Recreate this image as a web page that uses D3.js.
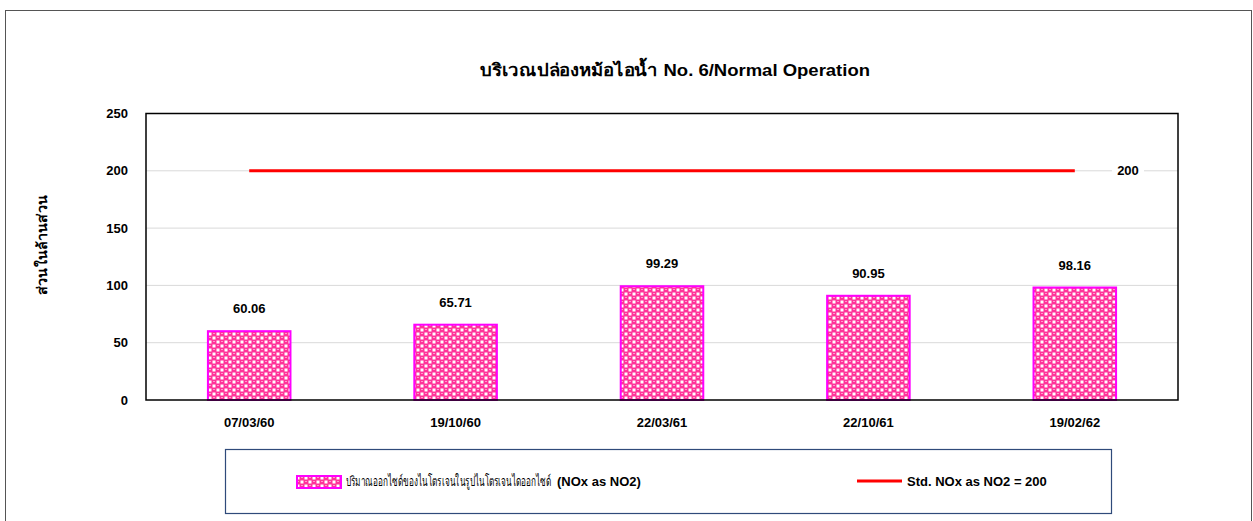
<!DOCTYPE html>
<html>
<head>
<meta charset="utf-8">
<script src="https://cdn.jsdelivr.net/npm/d3@7"></script>
<style>
  body { margin: 0; background: #fff; }
  text { font-family: Arial, "Liberation Sans", sans-serif; }
</style>
</head>
<body>
<script>
const dates = ['07/03/60', '19/10/60', '22/03/61', '22/10/61', '19/02/62'];
const noxValues = [60.06, 65.71, 99.29, 90.95, 98.16];
const stdValue = 200;
const yTicks = [0, 50, 100, 150, 200, 250];

const width = 1253;
const height = 521;
const plot = {left: 146, right: 1178, top: 113.5, bottom: 400};

const svg = d3.select('body').append('svg')
  .attr('width', width)
  .attr('height', height);

// bar fill pattern (pink balls on white)
const defs = svg.append('defs');
const pat = defs.append('pattern')
  .attr('id', 'dots')
  .attr('patternUnits', 'userSpaceOnUse')
  .attr('width', 8)
  .attr('height', 8);
pat.append('rect').attr('width', 8).attr('height', 8).attr('fill', '#ff3399');
pat.append('rect').attr('x', 4.5).attr('y', 0.5).attr('width', 3).attr('height', 3).attr('fill', '#fff');
pat.append('rect').attr('x', 0.5).attr('y', 4.5).attr('width', 3).attr('height', 3).attr('fill', '#fff');
pat.append('rect').attr('x', 1).attr('y', 1).attr('width', 2).attr('height', 0.8).attr('fill', '#ffb3d9');
pat.append('rect').attr('x', 5).attr('y', 5).attr('width', 2).attr('height', 0.8).attr('fill', '#ffb3d9');

// outer frame
svg.append('rect')
  .attr('x', 5.5).attr('y', 10.5)
  .attr('width', 1246).attr('height', 520)
  .attr('fill', 'none')
  .attr('stroke', '#555')
  .attr('stroke-width', 1);

const x = d3.scaleBand()
  .domain(dates)
  .range([plot.left, plot.right])
  .paddingInner(0.6)
  .paddingOuter(0.3);

const y = d3.scaleLinear()
  .domain([0, 250])
  .range([plot.bottom, plot.top]);

// gridlines
svg.append('g').selectAll('line')
  .data(yTicks.filter(d => d > 0 && d < 250))
  .enter()
  .append('line')
  .attr('x1', plot.left).attr('x2', plot.right)
  .attr('y1', d => y(d)).attr('y2', d => y(d))
  .attr('stroke', '#d9d9d9')
  .attr('stroke-width', 1);

// y axis labels
const yAxis = d3.axisLeft(y).tickValues(yTicks).tickSize(0).tickPadding(18);
svg.append('g')
  .attr('transform', `translate(${plot.left},0)`)
  .call(yAxis)
  .call(g => g.select('.domain').remove())
  .selectAll('text')
  .attr('font-size', 13)
  .attr('font-weight', 'bold')
  .attr('font-family', 'Arial, "Liberation Sans", sans-serif')
  .attr('fill', '#000');

// x axis labels
const xAxis = d3.axisBottom(x).tickSize(0).tickPadding(18);
svg.append('g')
  .attr('transform', `translate(0,${plot.bottom})`)
  .call(xAxis)
  .call(g => g.select('.domain').remove())
  .selectAll('text')
  .attr('font-size', 13)
  .attr('font-weight', 'bold')
  .attr('font-family', 'Arial, "Liberation Sans", sans-serif')
  .attr('fill', '#000');

// bars
svg.append('g').selectAll('rect')
  .data(noxValues)
  .enter()
  .append('rect')
  .attr('x', (d, i) => x(dates[i]))
  .attr('y', d => y(d))
  .attr('width', x.bandwidth())
  .attr('height', d => y(0) - y(d))
  .attr('fill', 'url(#dots)')
  .attr('stroke', '#ff00ff')
  .attr('stroke-width', 2);

svg.append('g').selectAll('text')
  .data(noxValues)
  .enter()
  .append('text')
  .text(d => d.toFixed(2))
  .attr('x', (d, i) => x(dates[i]) + x.bandwidth() / 2)
  .attr('y', d => y(d) - 18)
  .attr('text-anchor', 'middle')
  .attr('font-size', 13)
  .attr('font-weight', 'bold');

// standard line
const firstC = x(dates[0]) + x.bandwidth() / 2;
const lastC = x(dates[dates.length - 1]) + x.bandwidth() / 2;
svg.append('line')
  .attr('x1', firstC).attr('x2', lastC)
  .attr('y1', y(stdValue)).attr('y2', y(stdValue))
  .attr('stroke', '#ff0000')
  .attr('stroke-width', 3);

svg.append('rect')
  .attr('x', 1112).attr('y', y(stdValue) - 8)
  .attr('width', 32).attr('height', 16)
  .attr('fill', '#fff');
svg.append('text')
  .text(stdValue)
  .attr('x', 1128)
  .attr('y', y(stdValue) + 4.5)
  .attr('text-anchor', 'middle')
  .attr('font-size', 13)
  .attr('font-weight', 'bold');

// plot border
svg.append('rect')
  .attr('x', plot.left).attr('y', plot.top)
  .attr('width', plot.right - plot.left)
  .attr('height', plot.bottom - plot.top)
  .attr('fill', 'none')
  .attr('stroke', '#000')
  .attr('stroke-width', 1.5);

// title
svg.append('text')
  .text('บริเวณปล่องหม้อไอน้ำ No. 6/Normal Operation')
  .attr('x', 675)
  .attr('y', 76)
  .attr('text-anchor', 'middle')
  .attr('font-size', 17)
  .attr('font-weight', 'bold')
  .attr('textLength', 390)
  .attr('lengthAdjust', 'spacingAndGlyphs');

// y axis title
svg.append('text')
  .text('ส่วนในล้านส่วน')
  .attr('transform', 'translate(47,245) rotate(-90)')
  .attr('text-anchor', 'middle')
  .attr('font-size', 14)
  .attr('font-weight', 'bold')
  .attr('textLength', 100)
  .attr('lengthAdjust', 'spacingAndGlyphs');

// legend
svg.append('rect')
  .attr('x', 225.5).attr('y', 449.5)
  .attr('width', 886).attr('height', 64)
  .attr('fill', '#fff')
  .attr('stroke', '#2f4a7a')
  .attr('stroke-width', 1.2);

svg.append('rect')
  .attr('x', 297).attr('y', 476)
  .attr('width', 44).attr('height', 12)
  .attr('fill', 'url(#dots)')
  .attr('stroke', '#ff00ff')
  .attr('stroke-width', 2);

// thai part squeezed horizontally to the reference width
const thaiLabel = svg.append('text')
  .text('ปริมาณออกไซด์ของไนโตรเจนในรูปไนโตรเจนไดออกไซด์')
  .attr('font-size', 14);
const thaiW = thaiLabel.node().getComputedTextLength();
const sx = Math.min(1, 206 / thaiW);
thaiLabel.attr('transform', `translate(346,486) scale(${sx},1)`);

svg.append('text')
  .text('(NOx as NO2)')
  .attr('x', 557)
  .attr('y', 486)
  .attr('font-size', 13)
  .attr('font-weight', 'bold');

svg.append('line')
  .attr('x1', 857).attr('x2', 902)
  .attr('y1', 481).attr('y2', 481)
  .attr('stroke', '#ff0000')
  .attr('stroke-width', 3);

svg.append('text')
  .text('Std. NOx as NO2 = 200')
  .attr('x', 907)
  .attr('y', 486)
  .attr('font-size', 13)
  .attr('font-weight', 'bold');
</script>
</body>
</html>
